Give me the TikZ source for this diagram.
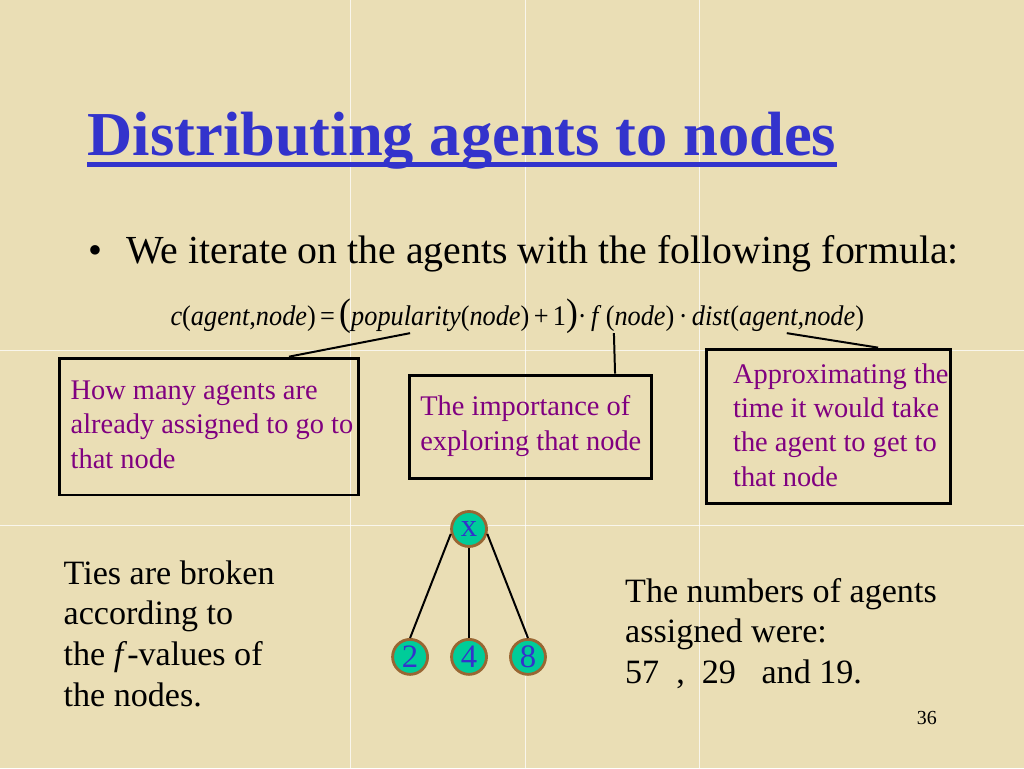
\documentclass[tikz,border=0pt]{standalone}
\usepackage{fontspec}
\setmainfont{Liberation Serif}
\usetikzlibrary{calc}
\definecolor{parchment}{RGB}{234,222,181}
\definecolor{titleblue}{RGB}{51,51,204}
\definecolor{notepurple}{RGB}{128,0,128}
\definecolor{leafteal}{RGB}{0,204,153}
\definecolor{ringbrown}{RGB}{153,102,51}
\tikzset{
  notebox/.style={draw, line width=2.1pt, inner sep=0pt},
  notetext/.style={anchor=base west, align=left, inner sep=0pt, text=notepurple, font=\fontsize{20}{24}\selectfont},
  bodytext/.style={anchor=base west, align=left, inner sep=0pt, font=\fontsize{24}{28.8}\selectfont},
  tnode/.style={circle, draw=ringbrown, line width=2pt, fill=leafteal, minimum size=24.6pt, inner sep=0pt, text=titleblue, font=\fontsize{23}{24}\selectfont},
  callout/.style={line width=1.4pt},
}

\begin{document}
\begin{tikzpicture}[x=0.703125pt, y=-0.703125pt]
  \fill[parchment] (0,0) rectangle (1024,768);
  \foreach \gx in {350,525,700}
    \draw[white, opacity=.75, line width=.6pt] (\gx,0) -- (\gx,768);
  \foreach \gy in {350,525}
    \draw[white, opacity=.75, line width=.6pt] (0,\gy) -- (1024,\gy);

  \node[anchor=base west, inner sep=0pt, text=titleblue, font=\fontsize{44}{52}\selectfont\bfseries] (title) at (87,155) {Distributing agents to nodes};
  \draw[titleblue, line width=3.5pt] ([yshift=-6.7pt]title.base west) -- ([yshift=-6.7pt]title.base east);

  \node[anchor=base west, inner sep=0pt, font=\fontsize{28}{34}\selectfont] (bullet) at (88,263) {\textbullet};
  \node[anchor=base west, inner sep=0pt, font=\fontsize{28}{34}\selectfont] (intro) at (126,263) {We iterate on the agents with the following formula:};

  % last-line baselines below: a multi-line node sits on its last line
  \node[anchor=base west, inner sep=0pt, font=\fontsize{20}{24}\selectfont] (formula) at (170,325)
    {\scalebox{.925}[1]{\textit{c}(\textit{agent},\textit{node})\,=\,{\fontsize{27}{27}\selectfont(}\textit{popularity}(\textit{node})\,+\,1{\fontsize{27}{27}\selectfont)}\textperiodcentered\,\textit{f}\,(\textit{node})\,\textperiodcentered\,\textit{dist}(\textit{agent},\textit{node})}};
  \coordinate (popTip) at (410,333);
  \coordinate (fTip) at (614,333);
  \coordinate (distTip) at (787,333);

  \node[notebox, minimum width=210.2pt, minimum height=96.3pt] (popBox) at (208.5,426.5) {};
  \node[notebox, minimum width=170.9pt, minimum height=72.4pt] (fBox) at (530.5,426.5) {};
  \node[notebox, minimum width=171.6pt, minimum height=108.3pt] (distBox) at (829,426) {};
  \node[notetext] (popText) at (70,468) {How many agents are\\already assigned to go to\\that node};
  \node[notetext] (fText) at (420,450) {The importance of\\exploring that node};
  \node[notetext] (distText) at (733,486) {Approximating the\\time it would take\\the agent to get to\\that node};

  \draw[callout] (popTip) -- ($(popBox.north west)!.766!(popBox.north east)$);
  \draw[callout] (fTip) -- ($(fBox.north west)!.844!(fBox.north east)$);
  \draw[callout] (distTip) -- ($(distBox.north west)!.70!(distBox.north east)$);

  \node[bodytext] (ties) at (63,707) {Ties are broken\\according to\\the \textit{f}-values of\\the nodes.};
  \node[bodytext] (counts) at (625,684) {The numbers of agents\\assigned were:\\57~~,~~29~~~and 19.};

  \node[tnode] (root) at (469,529) {x};
  \node[tnode] (two) at (410,657) {2};
  \node[tnode] (four) at (469,657) {4};
  \node[tnode] (eight) at (528,657) {8};
  \draw[line width=1.4pt] (root.195) -- (two.north);
  \draw[line width=1.4pt] (root.south) -- (four.north);
  \draw[line width=1.4pt] (root.-15) -- (eight.north);

  \node[anchor=base west, inner sep=0pt, font=\fontsize{14}{16}\selectfont] (page) at (917,725) {36};
\end{tikzpicture}
\end{document}
